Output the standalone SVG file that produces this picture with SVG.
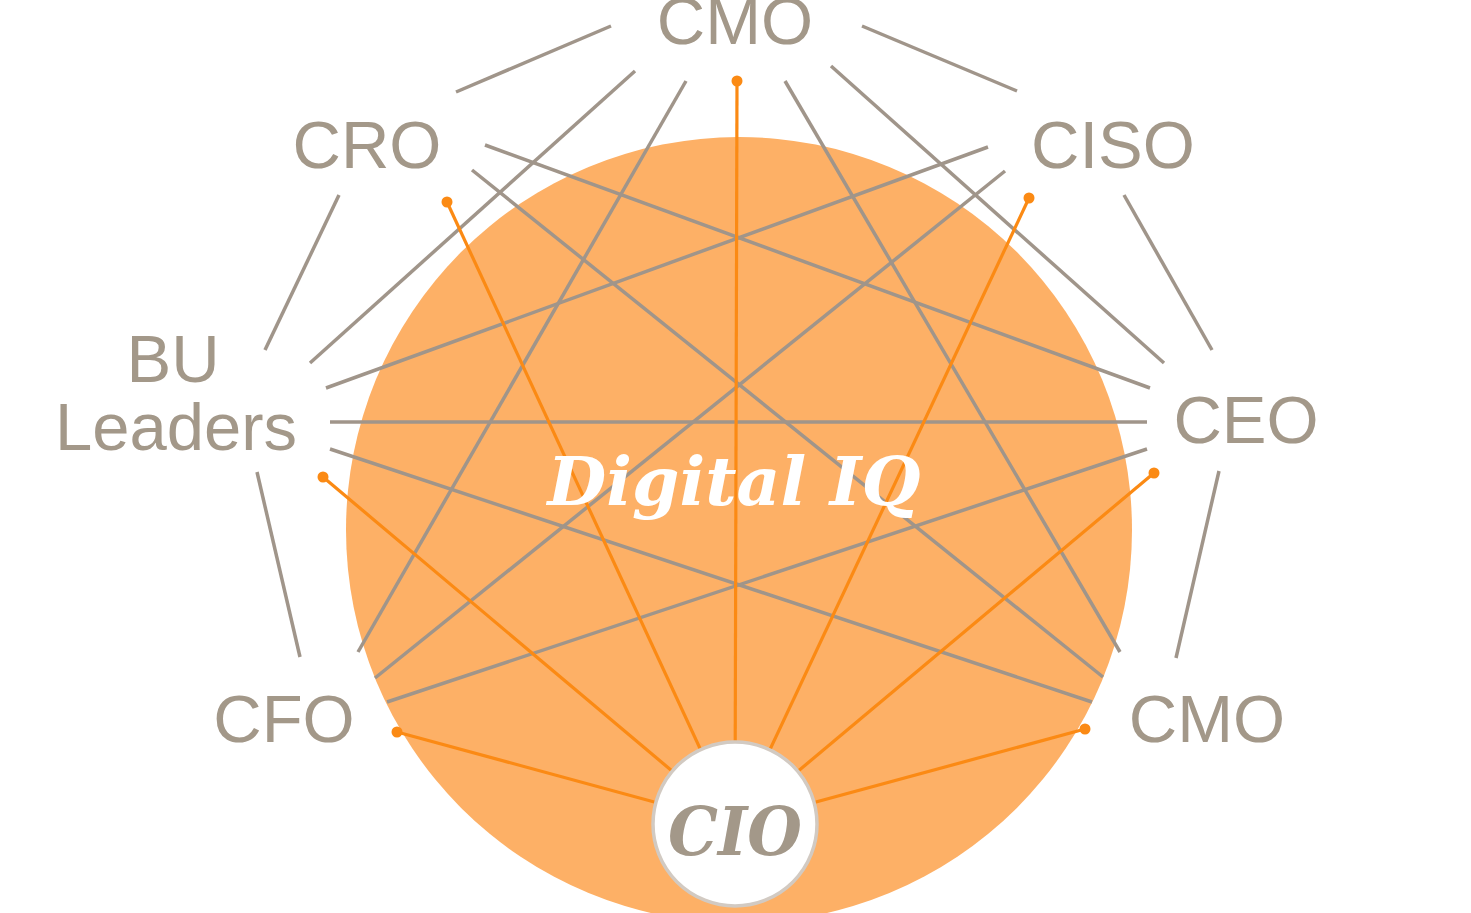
<svg xmlns="http://www.w3.org/2000/svg" width="1471" height="913" viewBox="0 0 1471 913">
  <style>
    .label { font-family: "Liberation Sans", Arial, sans-serif; font-size: 67px; fill: #a39889; text-anchor: middle; }
    .chord { stroke: #a0958a; stroke-width: 3.5; stroke-linecap: butt; fill: none; }
    .spoke { stroke: #fb8a14; stroke-width: 3.2; fill: none; }
    .dot { fill: #fb8a14; }
    .serif { font-family: "DejaVu Serif", "Liberation Serif", serif; font-weight: bold; font-style: italic; text-anchor: middle; }
  </style>
  <rect width="1471" height="913" fill="#ffffff"/>

  <!-- central Digital IQ disc -->
  <g id="digital-iq-disc">
    <circle cx="739" cy="530" r="393" fill="#fdb066"/>
  </g>

  <!-- grey links between leadership roles -->
  <g id="connectors">
    <line class="chord" x1="456" y1="92" x2="611" y2="26"/>
    <line class="chord" x1="862" y1="26" x2="1017" y2="91"/>
    <line class="chord" x1="1124" y1="195" x2="1212" y2="350"/>
    <line class="chord" x1="1219" y1="471" x2="1176" y2="658"/>
    <line class="chord" x1="339" y1="195" x2="265" y2="350"/>
    <line class="chord" x1="257" y1="472" x2="300" y2="657"/>
    <line class="chord" x1="635" y1="71" x2="310" y2="363"/>
    <line class="chord" x1="686" y1="81" x2="358" y2="652"/>
    <line class="chord" x1="785" y1="81" x2="1120" y2="652"/>
    <line class="chord" x1="831" y1="66" x2="1164" y2="363"/>
    <line class="chord" x1="485" y1="145" x2="1150" y2="388"/>
    <line class="chord" x1="472" y1="170" x2="1103" y2="677"/>
    <line class="chord" x1="988" y1="147" x2="326" y2="388"/>
    <line class="chord" x1="1005" y1="171" x2="375" y2="678"/>
    <line class="chord" x1="330" y1="422" x2="1147" y2="422"/>
    <line class="chord" x1="330" y1="449" x2="1092" y2="702"/>
    <line class="chord" x1="387" y1="702" x2="1147" y2="449"/>

    <!-- orange spokes from the CIO to every role -->
    <g id="cio-spokes">
      <line class="spoke" x1="735" y1="824" x2="737" y2="81"/>
      <line class="spoke" x1="735" y1="824" x2="447" y2="202"/>
      <line class="spoke" x1="735" y1="824" x2="323" y2="477"/>
      <line class="spoke" x1="735" y1="824" x2="397" y2="732"/>
      <line class="spoke" x1="735" y1="824" x2="1085" y2="729"/>
      <line class="spoke" x1="735" y1="824" x2="1154" y2="473"/>
      <line class="spoke" x1="735" y1="824" x2="1029" y2="198"/>
      <circle class="dot" cx="737" cy="81" r="5.5"/>
      <circle class="dot" cx="447" cy="202" r="5.5"/>
      <circle class="dot" cx="323" cy="477" r="5.5"/>
      <circle class="dot" cx="397" cy="732" r="5.5"/>
      <circle class="dot" cx="1085" cy="729" r="5.5"/>
      <circle class="dot" cx="1154" cy="473" r="5.5"/>
      <circle class="dot" cx="1029" cy="198" r="5.5"/>
    </g>
  </g>

  <g id="digital-iq-label">
    <text class="serif" x="734" y="505" font-size="68" fill="#ffffff" textLength="373" lengthAdjust="spacingAndGlyphs">Digital IQ</text>
  </g>

  <g id="node-cio">
    <circle cx="735" cy="824" r="82" fill="#ffffff" stroke="#d2cac2" stroke-width="3.5"/>
    <text class="serif" x="735" y="855" font-size="68" fill="#a39889" textLength="134" lengthAdjust="spacingAndGlyphs">CIO</text>
  </g>

  <g id="node-cmo-top"><text class="label" x="735" y="44">CMO</text></g>
  <g id="node-cro"><text class="label" x="367" y="168">CRO</text></g>
  <g id="node-ciso"><text class="label" x="1113" y="168">CISO</text></g>
  <g id="node-ceo"><text class="label" x="1246" y="443">CEO</text></g>
  <g id="node-cmo-bottom"><text class="label" x="1207" y="742">CMO</text></g>
  <g id="node-cfo"><text class="label" x="284" y="742">CFO</text></g>
  <g id="node-bu-leaders">
    <text class="label" x="173" y="382">BU</text>
    <text class="label" x="176" y="450">Leaders</text>
  </g>
</svg>
